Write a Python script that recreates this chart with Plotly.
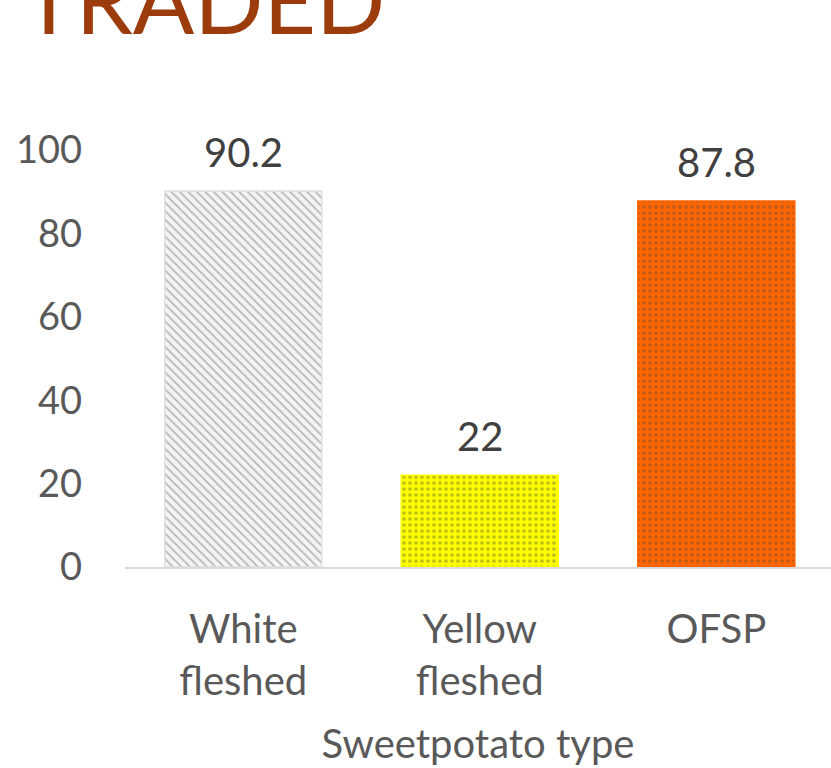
import plotly.graph_objects as go

# Share of sweetpotato traded, by flesh colour
categories = ["White<br>fleshed", "Yellow<br>fleshed", "OFSP"]
values = [90.2, 22, 87.8]
value_labels = ["90.2", "22", "87.8"]
y_ticks = [0, 20, 40, 60, 80, 100]

bar_colors = ["#f4f4f4", "#ffff00", "#ff6600"]
pattern_shapes = ["\\", ".", "."]
pattern_fg = ["#d0d0d0", "#e8e800", "#d85000"]
line_colors = ["#e0e0e0", "#ffff00", "#ff6600"]

FONT = "Lato, 'Open Sans', sans-serif"

fig = go.Figure(
    go.Bar(
        x=categories,
        y=values,
        width=0.664,
        marker=dict(
            color=bar_colors,
            line=dict(color=line_colors, width=1.5),
            pattern=dict(shape=pattern_shapes, fgcolor=pattern_fg,
                         fgopacity=0.35, size=6, solidity=0.3),
        ),
        hoverinfo="skip",
    )
)

# value labels sitting above each bar
for c, v, t in zip(categories, values, value_labels):
    fig.add_annotation(x=c, y=v, text=t, showarrow=False, yanchor="bottom",
                       yshift=13, font=dict(size=40, color="#404040", family=FONT))

# heading (cut by the top edge)
fig.add_annotation(x=-0.149, xref="paper", y=1.145, yref="paper", text="TRADED",
                   showarrow=False, xanchor="left", yanchor="bottom",
                   font=dict(size=91, color="#9c3b0c", family=FONT))

fig.update_layout(
    width=831, height=768,
    margin=dict(l=125, r=0, t=120, b=201),
    paper_bgcolor="white", plot_bgcolor="white",
    showlegend=False,
    font=dict(family=FONT, color="#595959"),
    xaxis=dict(
        range=[-0.5, 2.485],
        showline=True, linecolor="#d9d9d9", linewidth=1.5,
        showgrid=False, ticks="",
        ticklabelstandoff=26,
        tickfont=dict(size=40, color="#595959"),
        title=dict(text="Sweetpotato type", font=dict(size=40, color="#595959"),
                   standoff=27),
    ),
    yaxis=dict(
        range=[0, 107.2],
        tickvals=y_ticks,
        showgrid=False, zeroline=False, showline=False, ticks="",
        ticklabelstandoff=42,
        tickfont=dict(size=38, color="#595959"),
    ),
)

fig.write_html("out.html")
